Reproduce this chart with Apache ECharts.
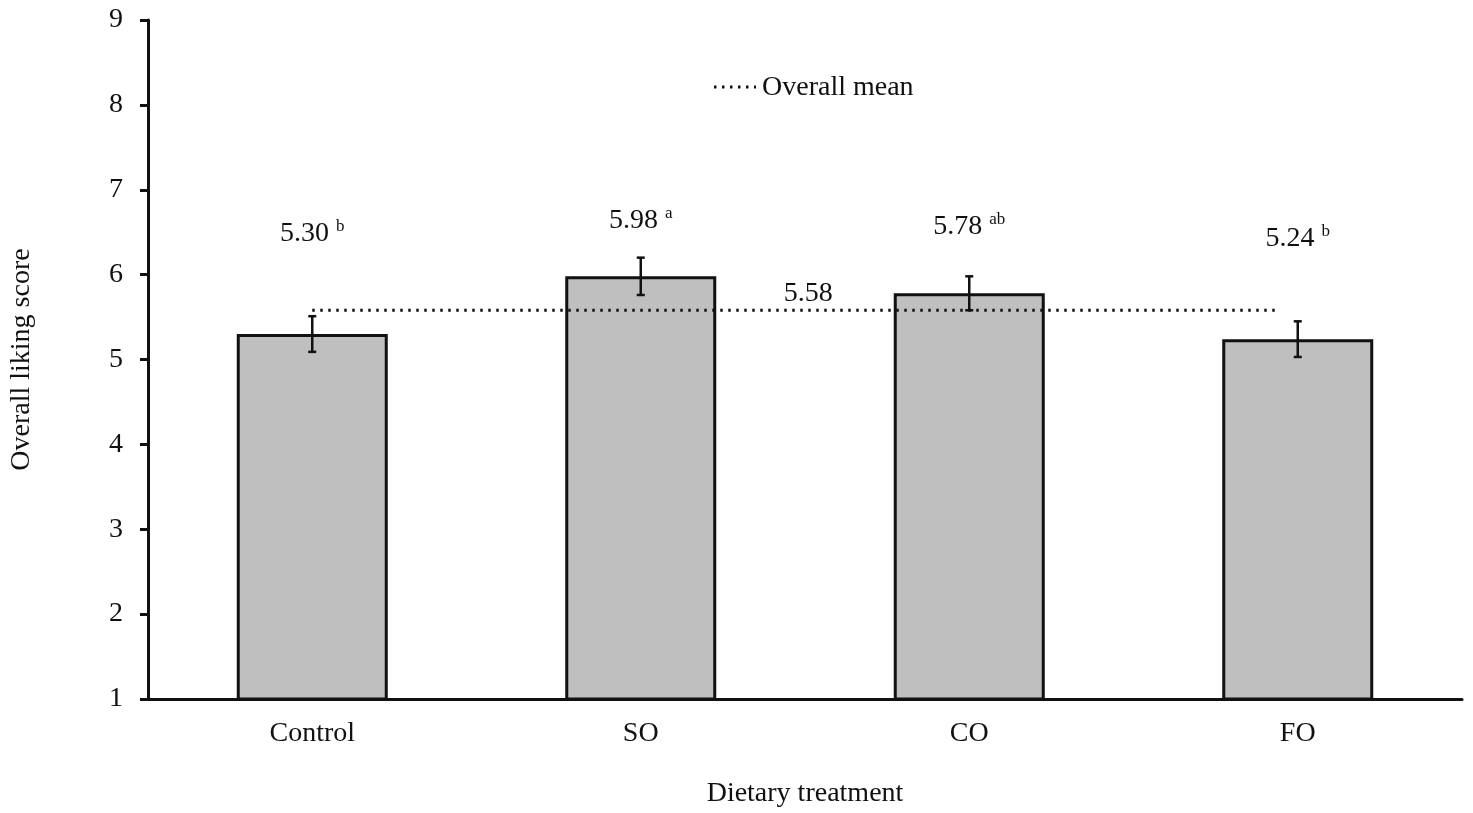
<!DOCTYPE html>
<html>
<head>
<meta charset="utf-8">
<script src="https://cdn.jsdelivr.net/npm/echarts@6/dist/echarts.min.js"></script>
<style>
html,body{margin:0;padding:0;background:#fff;}
#main{width:1473px;height:813px;}
</style>
</head>
<body>
<div id="main"></div>
<script>
var categories = ['Control', 'SO', 'CO', 'FO'];
var means = [5.30, 5.98, 5.78, 5.24];
var errors = [0.21, 0.22, 0.20, 0.21];
var letters = ['b', 'a', 'ab', 'b'];
var overallMean = 5.58;
var meanLineX = [0, 2.93];
var meanLabelX = 1.51;
var yTicks = [1, 2, 3, 4, 5, 6, 7, 8, 9];

var labelDistance = [85, 40, 51, 85];
var FONT = '"Liberation Serif", "Times New Roman", serif';
var FS = 28;

var chart = echarts.init(document.getElementById('main'), null, {renderer: 'canvas'});

var barData = means.map(function (v, i) {
  return {
    value: v,
    label: {
      show: true,
      position: 'top',
      distance: labelDistance[i],
      formatter: v.toFixed(2) + ' {sup|' + letters[i] + '}',
      fontFamily: FONT,
      fontSize: FS,
      color: '#111',
      rich: {
        sup: {fontFamily: FONT, fontSize: 17, color: '#111', verticalAlign: 'top', padding: [0, 0, 14, 0]}
      }
    }
  };
});

var errData = means.map(function (v, i) { return [i, v - errors[i], v + errors[i]]; });

var option = {
  animation: false,
  backgroundColor: '#fff',
  legend: {
    show: true,
    data: [{name: 'Overall mean', icon: 'none'}],
    left: 752,
    top: 69,
    itemWidth: 0,
    itemGap: 0,
    textStyle: {fontFamily: FONT, fontSize: FS, color: '#111'}
  },
  graphic: [{
    type: 'line',
    shape: {x1: 714, y1: 87, x2: 756, y2: 87},
    style: {stroke: '#111', lineWidth: 3, lineDash: [2.5, 5.5]}
  }],
  grid: {left: 146, right: 11, top: 20, bottom: 113, containLabel: false},
  xAxis: [{
    type: 'category',
    data: categories,
    axisLine: {lineStyle: {color: '#111', width: 3}},
    axisTick: {show: false},
    axisLabel: {fontFamily: FONT, fontSize: FS, color: '#111', margin: 21},
    name: 'Dietary treatment',
    nameLocation: 'middle',
    nameGap: 81,
    nameTextStyle: {fontFamily: FONT, fontSize: FS, color: '#111'}
  }, {
    type: 'value',
    min: -0.5,
    max: 3.5,
    show: false
  }],
  yAxis: {
    type: 'value',
    min: yTicks[0],
    max: yTicks[yTicks.length - 1],
    interval: 1,
    axisLine: {show: true, onZero: false, lineStyle: {color: '#111', width: 3}},
    axisTick: {show: true, length: 8, lineStyle: {color: '#111', width: 3}},
    splitLine: {show: false},
    axisLabel: {fontFamily: FONT, fontSize: FS, color: '#111', margin: 25},
    name: 'Overall liking score',
    nameLocation: 'middle',
    nameGap: 112,
    nameTextStyle: {fontFamily: FONT, fontSize: FS, color: '#111'}
  },
  series: [{
    type: 'bar',
    name: 'bars',
    data: barData,
    barWidth: 151,
    itemStyle: {color: '#bfbfbf', borderColor: '#111', borderWidth: 3},
    z: 2
  }, {
    type: 'custom',
    name: 'err',
    data: errData,
    z: 5,
    renderItem: function (params, api) {
      var x = api.value(0);
      var lo = api.coord([x, api.value(1)]);
      var hi = api.coord([x, api.value(2)]);
      var cap = 4;
      var st = {stroke: '#111', lineWidth: 2.5};
      return {
        type: 'group',
        children: [
          {type: 'line', shape: {x1: lo[0], y1: lo[1], x2: hi[0], y2: hi[1]}, style: st},
          {type: 'line', shape: {x1: lo[0] - cap, y1: lo[1], x2: lo[0] + cap, y2: lo[1]}, style: st},
          {type: 'line', shape: {x1: hi[0] - cap, y1: hi[1], x2: hi[0] + cap, y2: hi[1]}, style: st}
        ]
      };
    }
  }, {
    type: 'line',
    name: 'Overall mean',
    xAxisIndex: 1,
    data: meanLineX.map(function (x) { return [x, overallMean]; }),
    symbol: 'none',
    lineStyle: {color: '#111', width: 3, type: [2.5, 5.5]},
    z: 4
  }, {
    type: 'scatter',
    name: 'meanLabel',
    xAxisIndex: 1,
    data: [[meanLabelX, overallMean]],
    symbolSize: 1,
    itemStyle: {color: 'rgba(0,0,0,0)', opacity: 1},
    label: {
      show: true,
      position: 'top',
      distance: 2,
      formatter: overallMean.toFixed(2),
      fontFamily: FONT,
      fontSize: FS,
      color: '#111',
      opacity: 1
    },
    z: 6
  }]
};
chart.setOption(option);
</script>
</body>
</html>
